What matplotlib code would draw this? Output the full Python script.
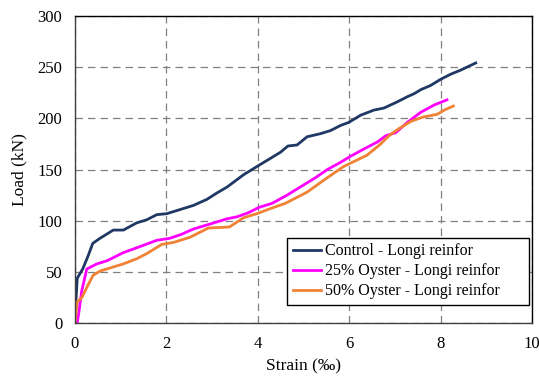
import matplotlib
matplotlib.use("Agg")
import matplotlib.pyplot as plt

plt.rcParams['font.family'] = ['Liberation Serif', 'DejaVu Serif']

control_x = [0.0, 0.02, 0.05, 0.17, 0.29, 0.39, 0.55, 0.84, 1.06, 1.35, 1.57, 1.79, 2.01, 2.30, 2.59,
             2.89, 3.10, 3.33, 3.69, 4.02, 4.28, 4.50, 4.66, 4.86, 5.08, 5.37, 5.59, 5.81, 5.99, 6.25,
             6.54, 6.76, 7.05, 7.27, 7.42, 7.57, 7.78, 8.00, 8.22, 8.44, 8.77]
control_y = [0, 20, 44, 53, 66, 78, 83, 91, 91, 98, 101, 106, 107, 111, 115,
             121, 127, 133, 145, 154, 161, 167, 173, 174, 182, 185, 188, 193, 196, 203,
             208, 210, 216, 221, 224, 228, 232, 238, 243, 247, 254]

o25_x = [0.05, 0.10, 0.15, 0.26, 0.48, 0.70, 1.06, 1.43, 1.79, 2.08, 2.34, 2.59, 2.89, 3.33, 3.55,
         3.80, 4.02, 4.31, 4.64, 4.93, 5.26, 5.52, 5.81, 6.03, 6.32, 6.62, 6.80, 7.02, 7.27, 7.57,
         7.86, 8.14]
o25_y = [0, 15, 32, 53, 58, 61, 69, 75, 81, 83, 87, 92, 96, 102, 104,
         108, 113, 117, 125, 133, 142, 150, 157, 163, 170, 177, 183, 186, 196, 206,
         213, 218]

o50_x = [0.0, 0.05, 0.15, 0.27, 0.40, 0.55, 0.84, 1.06, 1.35, 1.57, 1.90, 2.16, 2.52, 2.92, 3.38,
         3.69, 3.98, 4.28, 4.60, 5.08, 5.52, 5.88, 6.25, 6.39, 6.69, 6.87, 7.09, 7.35, 7.60, 7.93,
         8.08, 8.28]
o50_y = [0, 21, 25, 36, 47, 51, 55, 58, 63, 68, 77, 79, 84, 93, 94,
         103, 107, 112, 117, 128, 142, 153, 161, 164, 175, 183, 190, 197, 201, 204,
         208, 212]

labels = ["Control - Longi reinfor", "25% Oyster - Longi reinfor", "50% Oyster - Longi reinfor"]
colors = ["#1F3864", "#FF00FF", "#F08235"]

fig = plt.figure(figsize=(5.39, 3.76), dpi=100)
ax = fig.add_axes([0.139, 0.140, 0.848, 0.818])

ax.plot(control_x, control_y, color=colors[0], lw=2.0, label=labels[0])
ax.plot(o25_x, o25_y, color=colors[1], lw=2.0, label=labels[1])
ax.plot(o50_x, o50_y, color=colors[2], lw=2.0, label=labels[2])

ax.set_xlim(0, 10)
ax.set_ylim(0, 300)
ax.set_xticks([0, 2, 4, 6, 8, 10])
ax.set_yticks([0, 50, 100, 150, 200, 250, 300])
ax.grid(True, color="#808080", linestyle=(0, (6, 4)), linewidth=0.9)
ax.set_axisbelow(True)
ax.tick_params(length=0, labelsize=12, pad=9)
for s in ax.spines.values():
    s.set_color("black")
    s.set_linewidth(1.0)
ax.spines['left'].set_color("#404040")
ax.spines['bottom'].set_color("#404040")

ax.set_xlabel("Strain (‰)", fontsize=12.5, labelpad=5)
ax.set_ylabel("Load (kN)", fontsize=12.5, labelpad=7)

leg = ax.legend(loc="lower left", bbox_to_anchor=(0.464, 0.0595, 0.529, 0.21), mode="expand",
                fontsize=11.5, frameon=True, fancybox=False, edgecolor="black", framealpha=1,
                handlelength=1.8, handletextpad=0.2, borderpad=0.35, labelspacing=0.25,
                borderaxespad=0)
leg.get_frame().set_linewidth(1.0)

fig.savefig("out.png", dpi=100)
